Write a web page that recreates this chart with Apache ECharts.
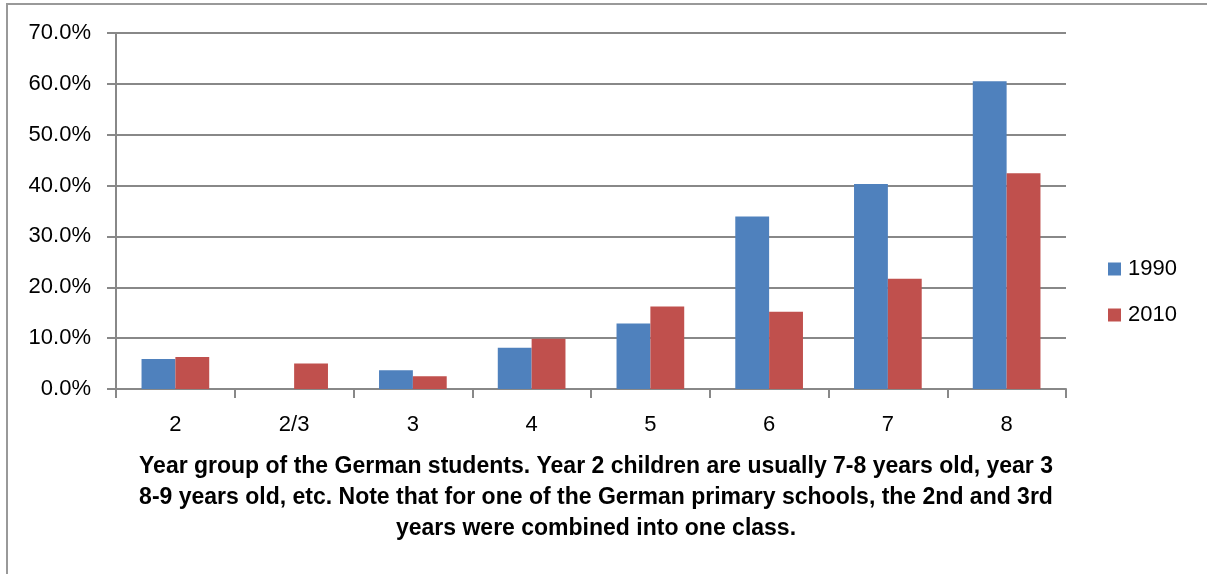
<!DOCTYPE html>
<html>
<head>
<meta charset="utf-8">
<script src="https://cdn.jsdelivr.net/npm/echarts@6/dist/echarts.min.js"></script>
<style>
  html, body { margin: 0; padding: 0; background: #fff; }
  #chart { width: 1207px; height: 574px; }
</style>
</head>
<body>
<div id="chart"></div>
<script>
// year groups on the x axis
const categories = ['2', '2/3', '3', '4', '5', '6', '7', '8']
// share of students, percent
const values1990 = [5.9, 0, 3.7, 8.1, 12.9, 33.9, 40.3, 60.5]
const values2010 = [6.3, 5.0, 2.5, 9.9, 16.2, 15.2, 21.7, 42.4]
const yTicks = [0, 10, 20, 30, 40, 50, 60, 70]

const axisName = 'Year group of the German students. Year 2 children are usually 7-8 years old, year 3\n' +
  '8-9 years old, etc. Note that for one of the German primary schools, the 2nd and 3rd\n' +
  'years were combined into one class.'

const font = 'Liberation Sans, Arial, sans-serif'
const gray = '#888888'

const option = {
  animation: false,
  textStyle: { fontFamily: font },
  title: {
    text: axisName,
    left: 591,
    top: 446,
    textAlign: 'center',
    textStyle: { fontSize: 23, fontWeight: 'bold', color: '#000', lineHeight: 31, fontFamily: font }
  },
  // 图例
  legend: {
    orient: 'vertical',
    left: 1103,
    top: 253,
    itemWidth: 13,
    itemHeight: 13,
    itemGap: 24,
    icon: 'rect',
    textStyle: { fontSize: 22, color: '#000', padding: [0, 0, 0, 2] },
    data: ['1990', '2010']
  },
  grid: { left: 116, right: 141, top: 33, bottom: 185 },
  xAxis: {
    type: 'category',
    data: categories,
    axisLine: { lineStyle: { color: gray, width: 2 } },
    axisTick: { show: true, length: 9, lineStyle: { color: gray, width: 2 } },
    axisLabel: { fontSize: 22, color: '#000', margin: 25 }
  },
  yAxis: {
    type: 'value',
    min: yTicks[0],
    max: yTicks[yTicks.length - 1],
    interval: 10,
    axisLine: { show: true, lineStyle: { color: gray, width: 2 } },
    axisTick: { show: true, length: 9, lineStyle: { color: gray, width: 2 } },
    splitLine: { lineStyle: { color: gray, width: 2 } },
    axisLabel: {
      fontSize: 22,
      color: '#000',
      margin: 25,
      formatter: v => v.toFixed(1) + '%'
    }
  },
  series: [
    {
      name: '1990',
      type: 'bar',
      data: values1990,
      barGap: '0%',
      barCategoryGap: '43%',
      itemStyle: { color: '#4F81BD' }
    },
    {
      name: '2010',
      type: 'bar',
      data: values2010,
      itemStyle: { color: '#C0504D' }
    }
  ],
  // 外框
  graphic: [
    {
      type: 'polyline',
      shape: { points: [[7, 574], [7, 4], [1207, 4]] },
      style: { stroke: '#999', lineWidth: 2, fill: null }
    }
  ]
}

const chart = echarts.init(document.getElementById('chart'))
chart.setOption(option)
</script>
</body>
</html>
